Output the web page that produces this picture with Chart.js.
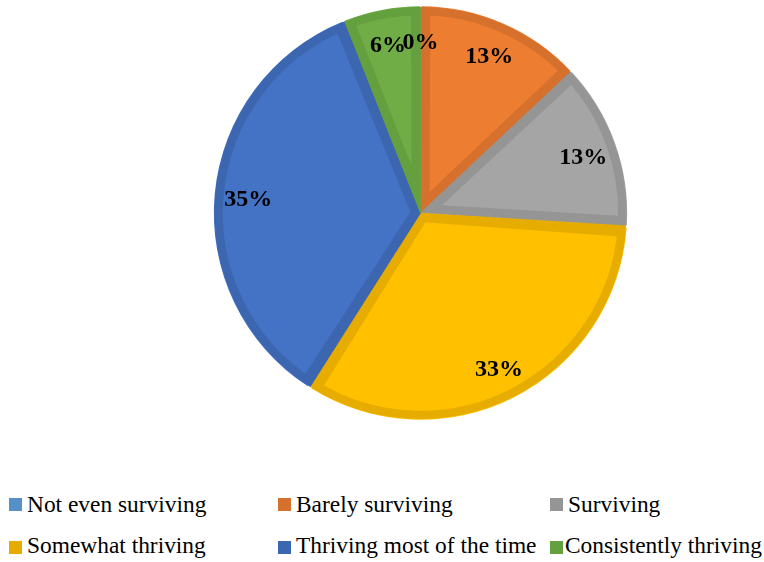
<!DOCTYPE html>
<html>
<head>
<meta charset="utf-8">
<script src="https://cdn.jsdelivr.net/npm/chart.js@4/dist/chart.umd.min.js"></script>
<style>
  body { margin: 0; background: #fff; }
  #wrap { position: relative; width: 764px; height: 562px; overflow: hidden; }
  #pie { position: absolute; left: 0; top: 0; }
  .serif { font-family: "Liberation Serif", Tinos, "Times New Roman", Times, serif; }
  .txt { position: absolute; white-space: nowrap; font-size: 24px; line-height: 24px; color: #000;
         transform: scaleX(0.975); transform-origin: 0 0; }
  .box { position: absolute; width: 13px; height: 13px; }
  #warm { position: absolute; left: 0; top: 0; visibility: hidden; font-weight: bold; font-size: 24px; }
</style>
</head>
<body>
<div id="wrap">
  <span id="warm" class="serif">0123456789%</span>
  <canvas id="pie" width="764" height="425"></canvas>
  <div id="legend" class="serif"></div>
</div>
<script>
// data
const labels = [
    'Not even surviving', 'Barely surviving', 'Surviving',
    'Somewhat thriving', 'Thriving most of the time', 'Consistently thriving'
];
const values = [0, 13, 13, 33, 35, 6];

const fillColors = ['#5B9BD5', '#ED7D31', '#A5A5A5', '#FFC000', '#4472C4', '#70AD47'];
const edgeColors = ['#5590C9', '#D5712C', '#959595', '#E6AD00', '#3D66B0', '#65A03F'];

// make sure the serif face is resolved before the canvas draws
document.getElementById('warm').offsetWidth;

// legend: 3 columns, 2 rows
const legendCols = [9, 278, 550];
const legendBoxTop = [498, 541];
const legendTextTop = [492, 533];
const legendEl = document.getElementById('legend');
labels.forEach((name, i) => {
    const col = legendCols[i % 3];
    const row = Math.floor(i / 3);
    const box = document.createElement('div');
    box.className = 'box';
    box.style.left = col + 'px';
    box.style.top = legendBoxTop[row] + 'px';
    box.style.background = edgeColors[i];
    legendEl.appendChild(box);
    const txt = document.createElement('div');
    txt.className = 'txt';
    txt.style.top = legendTextTop[row] + 'px';
    txt.textContent = name;
    legendEl.appendChild(txt);
    // squeeze the text against its box when it would run off the right edge
    const w = txt.offsetWidth * 0.975;
    txt.style.left = Math.max(col + 13, Math.min(col + 18, 762 - w)) + 'px';
});

// percent labels drawn on the slices
const pctLabels = {
    id: 'pctLabels',
    afterDatasetsDraw(chart) {
        const ctx = chart.ctx;
        const meta = chart.getDatasetMeta(0);
        const total = values.reduce((a, b) => a + b, 0);
        ctx.save();
        ctx.font = 'bold 24px "Liberation Serif", Tinos, "Times New Roman", Times, serif';
        ctx.fillStyle = '#000';
        ctx.textAlign = 'center';
        ctx.textBaseline = 'middle';
        meta.data.forEach((arc, i) => {
            const p = arc.getProps(['x', 'y', 'startAngle', 'endAngle', 'outerRadius'], true);
            const mid = (p.startAngle + p.endAngle) / 2;
            const r = p.outerRadius * 0.84;
            const pct = Math.round(values[i] / total * 100) + '%';
            ctx.fillText(pct, p.x + Math.cos(mid) * r, p.y + Math.sin(mid) * r + 3);
        });
        ctx.restore();
    }
};

new Chart(document.getElementById('pie'), {
    type: 'pie',
    data: {
        labels: labels,
        datasets: [{
            data: values,
            backgroundColor: fillColors,
            borderColor: edgeColors,
            borderWidth: 9,
            borderAlign: 'inner',
            spacing: 2,
            hoverOffset: 0
        }]
    },
    options: {
        responsive: false,
        animation: false,
        layout: { padding: { top: 6, bottom: 5, left: 77, right: 0 } },
        plugins: {
            legend: { display: false },
            tooltip: { enabled: false }
        },
        events: []
    },
    plugins: [pctLabels]
});
</script>
</body>
</html>
